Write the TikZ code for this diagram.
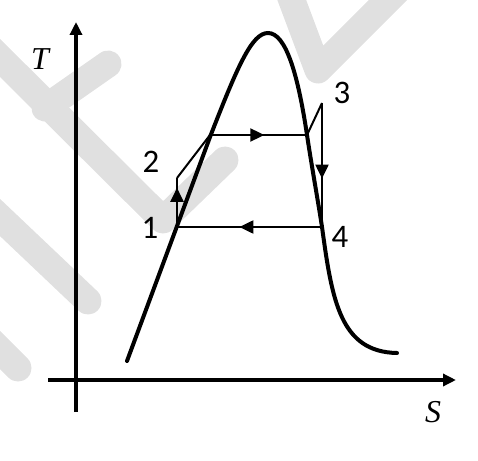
\documentclass[tikz,border=0pt]{standalone}
\usepackage{fontspec}
\setmainfont{Carlito}
\newfontfamily\serifit{Liberation Serif}
\usetikzlibrary{arrows.meta,decorations.markings}
\begin{document}
\begin{tikzpicture}[x=1bp,y=-1bp,
  wm/.style={line width=27bp, black!12, line cap=round, line join=round},
  axis/.style={line width=4bp, -{Triangle[length=13bp,width=12bp]}},
  curve/.style={line width=4bp, line cap=round},
  cyc/.style={line width=2bp},
  midarrow/.style={postaction={decorate}, decoration={markings, mark=at position #1 with {\arrow{Triangle[length=14bp,width=13bp]}}}},
  lbl/.style={font=\fontsize{33}{36}\selectfont, inner sep=0pt},
  axlbl/.style={font=\serifit\itshape\fontsize{32}{34}\selectfont, inner sep=0pt}]
\useasboundingbox (0,0) rectangle (478,461);
% watermark
\draw[wm] (-10,48) -- (163,220) -- (225,160);
\draw[wm] (45,108) -- (108,64);
\draw[wm] (-10,208) -- (88,301);
\draw[wm] (-10,340) -- (18,368);
\draw[wm] (288,-10) -- (318,70) -- (398,-10);
% axes
\coordinate (yb) at (76,412);
\coordinate (yt) at (76,22);
\coordinate (xl) at (48,380);
\coordinate (xr) at (456,380);
\draw[axis] (yb) -- (yt);
\draw[axis] (xl) -- (xr);
\node[axlbl] (T) at (40,59) {T};
\node[axlbl] (S) at (433,412) {S};
% saturation curve
\draw[curve] (127,361) .. controls (160,272) .. (210,137)
  .. controls (238,65) and (252,33) .. (268,33)
  .. controls (286,33) and (298,75) .. (307,135)
  .. controls (311.5,165) and (319,207) .. (322,227)
  .. controls (332,300) and (340,352) .. (397,353);
% cycle
\coordinate (p1) at (177,227);
\coordinate (p2) at (177,178);
\coordinate (pa) at (210,135);
\coordinate (pb) at (307,135);
\coordinate (p3) at (322,103);
\coordinate (p4) at (322,227);
\draw[cyc, midarrow=0.80] (p1) -- (p2);
\draw[cyc] (p2) -- (pa);
\draw[cyc, midarrow=0.56] (pa) -- (pb);
\draw[cyc] (pb) -- (p3);
\draw[cyc, midarrow=0.61] (p3) -- (p4);
\draw[cyc, midarrow=0.57] (p4) -- (p1);
\node[lbl] (l1) at (150,228) {1};
\node[lbl] (l2) at (151,162) {2};
\node[lbl] (l3) at (342,93) {3};
\node[lbl] (l4) at (340,237) {4};
\end{tikzpicture}
\end{document}
